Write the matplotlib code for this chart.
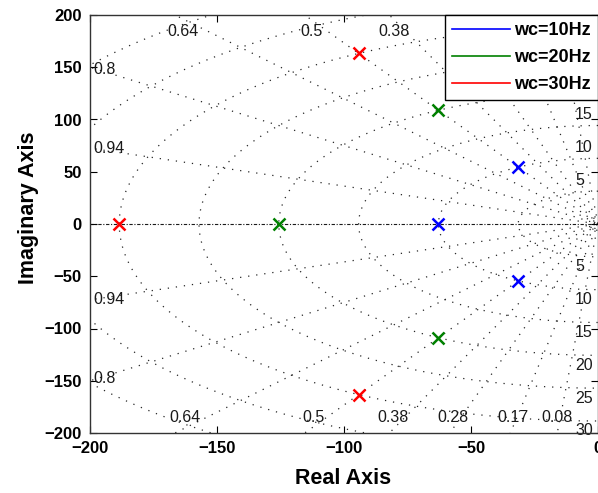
import numpy as np
import matplotlib
matplotlib.use("Agg")
import matplotlib.pyplot as plt
from matplotlib.lines import Line2D

plt.rcParams['font.family'] = ['Liberation Sans', 'DejaVu Sans']

# ---- data ----
series_labels = ["wc=10Hz", "wc=20Hz", "wc=30Hz"]
series_colors = ["#0000ff", "#008000", "#ff0000"]
pole_re_10 = [-62.8, -31.4, -31.4]
pole_im_10 = [0.0, 54.4, -54.4]
pole_re_20 = [-125.7, -62.8, -62.8]
pole_im_20 = [0.0, 108.8, -108.8]
pole_re_30 = [-188.5, -94.2, -94.2]
pole_im_30 = [0.0, 163.2, -163.2]

# grid (sgrid) parameters
zeta_values = [0.08, 0.17, 0.28, 0.38, 0.5, 0.64, 0.8, 0.94]
wn_hz_values = [5, 10, 15, 20, 25, 30, 35, 40, 45]
wn_label_values = [5, 10, 15, 20, 25, 30]

xticks = [-200, -150, -100, -50, 0]
yticks = [-200, -150, -100, -50, 0, 50, 100, 150, 200]

fig = plt.figure(figsize=(5.98, 4.93), dpi=100)
ax = fig.add_axes([90/598, 60/493, 508/598, 418/493])

dot = dict(color='0.15', linewidth=0.9, linestyle=(0, (1.0, 5.5)), zorder=1)

# damping lines (drawn from the far end toward the origin)
for z in zeta_values:
    th = np.arccos(z)
    r = np.array([400, 0])
    ax.plot(-r*np.cos(th), r*np.sin(th), **dot)
    ax.plot(-r*np.cos(th), -r*np.sin(th), **dot)

# natural-frequency arcs
t = np.linspace(np.pi/2, 3*np.pi/2, 400)
for f in wn_hz_values:
    wn = 2*np.pi*f
    ax.plot(wn*np.cos(t), wn*np.sin(t), **dot)

# real axis
ax.plot([-200, 0], [0, 0], color='0.1', linewidth=0.8, linestyle=(0, (3, 1.5, 1, 1.5)), zorder=1)

# damping labels
fs_lab = 11.5
lab_kw = dict(fontsize=fs_lab, color='0.1', ha='center', va='center', zorder=2)
top_lab = {"0.64": -163.4, "0.5": -112.6, "0.38": -80.3}
for s, x in top_lab.items():
    ax.text(x, 184.5, s, **lab_kw)
bot_lab = {"0.64": -162.6, "0.5": -112.2, "0.38": -80.7, "0.28": -57.0, "0.17": -33.5, "0.08": -16.0}
for s, x in bot_lab.items():
    ax.text(x, -185.6, s, **lab_kw)
left_lab = {"0.8": 148.0, "0.94": 71.8}
for s, y in left_lab.items():
    ax.text(-198.5, y, s, fontsize=fs_lab, color='0.1', ha='left', va='center', zorder=2)
    ax.text(-198.5, -y, s, fontsize=fs_lab, color='0.1', ha='left', va='center', zorder=2)

# frequency labels (Hz)
for f in wn_label_values:
    wn = 2*np.pi*f
    ax.text(-9.0, -(wn + 9.5), str(f), fontsize=fs_lab, color='0.1', ha='left', va='center', zorder=2)
    if f <= 15:
        ax.text(-9.0, wn + 10.5, str(f), fontsize=fs_lab, color='0.1', ha='left', va='center', zorder=2)

# poles
mk = dict(marker='x', linestyle='none', markersize=9, markeredgewidth=1.8, zorder=3)
ax.plot(pole_re_10, pole_im_10, color=series_colors[0], **mk)
ax.plot(pole_re_20, pole_im_20, color=series_colors[1], **mk)
ax.plot(pole_re_30, pole_im_30, color=series_colors[2], **mk)

# legend (lines)
handles = [Line2D([], [], color=c, linewidth=1.2) for c in series_colors]
leg = ax.legend(handles, series_labels, loc='upper right', bbox_to_anchor=(1.0, 1.0),
                borderaxespad=0.0, fancybox=False, framealpha=1, edgecolor='black',
                prop=dict(weight='bold', size=13), handlelength=3.2, handletextpad=0.25,
                labelspacing=0.55, borderpad=0.4)
leg.get_frame().set_linewidth(1.0)

ax.set_xlim(-200, 0)
ax.set_ylim(-200, 200)
ax.set_xticks(xticks)
ax.set_yticks(yticks)
ax.tick_params(direction='in', length=5, width=0.8, top=True, right=True,
               labelsize=12, pad=6, colors='black')
for lbl in ax.get_xticklabels() + ax.get_yticklabels():
    lbl.set_fontweight('bold')
for sp in ax.spines.values():
    sp.set_linewidth(1.0)
    sp.set_color('0.2')

ax.set_xlabel("Real Axis", fontsize=15.5, fontweight='bold')
ax.set_ylabel("Imaginary Axis", fontsize=15.5, fontweight='bold')
ax.xaxis.set_label_coords(0.499, -0.084)
ax.yaxis.set_label_coords(-0.10, 0.538)

fig.savefig("out.png", dpi=100)
